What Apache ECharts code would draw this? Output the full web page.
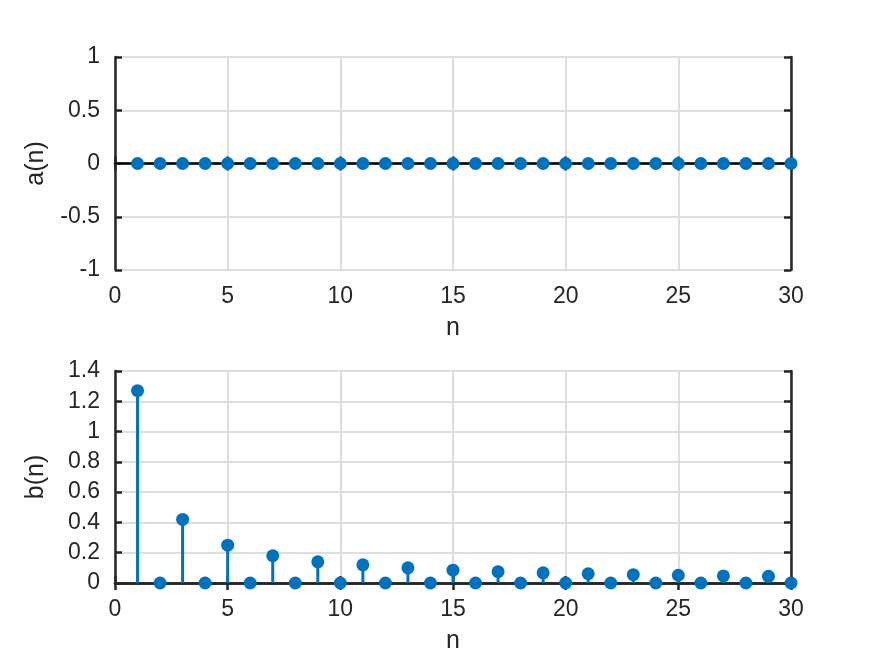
<!DOCTYPE html>
<html>
<head>
<meta charset="UTF-8">
<title>a(n), b(n)</title>
<style>
  html, body { margin: 0; padding: 0; background: #fff; }
  #chart { width: 873px; height: 655px; }
</style>
</head>
<body>
<div id="chart"></div>
<script src="https://cdn.jsdelivr.net/npm/echarts@6/dist/echarts.min.js"></script>
<script>
// data
var nValues = [1,2,3,4,5,6,7,8,9,10,11,12,13,14,15,16,17,18,19,20,21,22,23,24,25,26,27,28,29,30];
var aValues = [0,0,0,0,0,0,0,0,0,0,0,0,0,0,0,0,0,0,0,0,0,0,0,0,0,0,0,0,0,0];
var bValues = [1.27,0,0.42,0,0.25,0,0.18,0,0.14,0,0.12,0,0.10,0,0.085,0,0.075,0,0.067,0,0.061,0,0.055,0,0.051,0,0.047,0,0.044,0];

var blue = '#0072BD';
var dark = '#262626';
var font = 'Liberation Sans';
var fs = 23;      // tick labels
var nameFs = 25;  // axis titles

function pairs(ys) {
    return nValues.map(function (n, i) { return [n, ys[i]]; });
}

function xAxisFor(gi, show) {
    return {
        type: 'value', gridIndex: gi, min: 0, max: 30, interval: 5,
        position: show ? 'bottom' : 'top',
        name: show ? 'n' : '', nameLocation: 'middle', nameGap: 46,
        nameTextStyle: { color: dark, fontSize: nameFs, fontFamily: font },
        axisLine: { show: true, lineStyle: { color: dark, width: 2.5 } },
        axisTick: { show: true, inside: true, length: 7, lineStyle: { color: dark, width: 2.5 } },
        axisLabel: { show: show, margin: 15, color: dark, fontSize: fs, fontFamily: font },
        splitLine: { show: show, lineStyle: { color: '#dedede', width: 2 } }
    };
}

function yAxisFor(gi, min, max, step, name, show) {
    return {
        type: 'value', gridIndex: gi, min: min, max: max, interval: step,
        position: show ? 'left' : 'right',
        name: show ? name : '', nameLocation: 'middle', nameGap: 66,
        nameTextStyle: { color: dark, fontSize: nameFs, fontFamily: font },
        axisLine: { show: true, onZero: false, lineStyle: { color: dark, width: 2.5 } },
        axisTick: { show: true, inside: true, length: 7, lineStyle: { color: dark, width: 2.5 } },
        axisLabel: { show: show, margin: 15, color: dark, fontSize: fs, fontFamily: font },
        splitLine: { show: show, lineStyle: { color: '#dedede', width: 2 } }
    };
}

function stems(xi, yi, ys) {
    return {
        type: 'custom', xAxisIndex: xi, yAxisIndex: yi, z: 3,
        data: pairs(ys),
        renderItem: function (params, api) {
            var p0 = api.coord([api.value(0), 0]);
            var p1 = api.coord([api.value(0), api.value(1)]);
            return {
                type: 'line',
                shape: { x1: p0[0], y1: p0[1], x2: p1[0], y2: p1[1] },
                style: { stroke: blue, lineWidth: 3 }
            };
        }
    };
}

function dots(xi, yi, ys) {
    return {
        type: 'scatter', xAxisIndex: xi, yAxisIndex: yi, z: 5,
        symbol: 'circle', symbolSize: 13, clip: false,
        itemStyle: { color: blue, opacity: 1 },
        data: pairs(ys)
    };
}

var myChart = echarts.init(document.getElementById('chart'));
var option = {
    animation: false,
    backgroundColor: '#fff',
    grid: [
        { left: 115, right: 82, top: 57, height: 213 },
        { left: 115, right: 82, top: 371, height: 212 }
    ],
    xAxis: [
        xAxisFor(0, true), xAxisFor(0, false),
        xAxisFor(1, true), xAxisFor(1, false)
    ],
    yAxis: [
        yAxisFor(0, -1, 1, 0.5, 'a(n)', true), yAxisFor(0, -1, 1, 0.5, '', false),
        yAxisFor(1, 0, 1.4, 0.2, 'b(n)', true), yAxisFor(1, 0, 1.4, 0.2, '', false)
    ],
    series: [
        {
            // baseline of the upper stem plot
            type: 'line', xAxisIndex: 0, yAxisIndex: 0, z: 2,
            data: [], symbol: 'none',
            markLine: {
                silent: true, symbol: 'none', label: { show: false },
                lineStyle: { color: '#000', width: 1.2, type: 'solid' },
                data: [{ yAxis: 0 }]
            }
        },
        stems(0, 0, aValues),
        dots(0, 0, aValues),
        stems(2, 2, bValues),
        dots(2, 2, bValues)
    ]
};
myChart.setOption(option);
</script>
</body>
</html>
